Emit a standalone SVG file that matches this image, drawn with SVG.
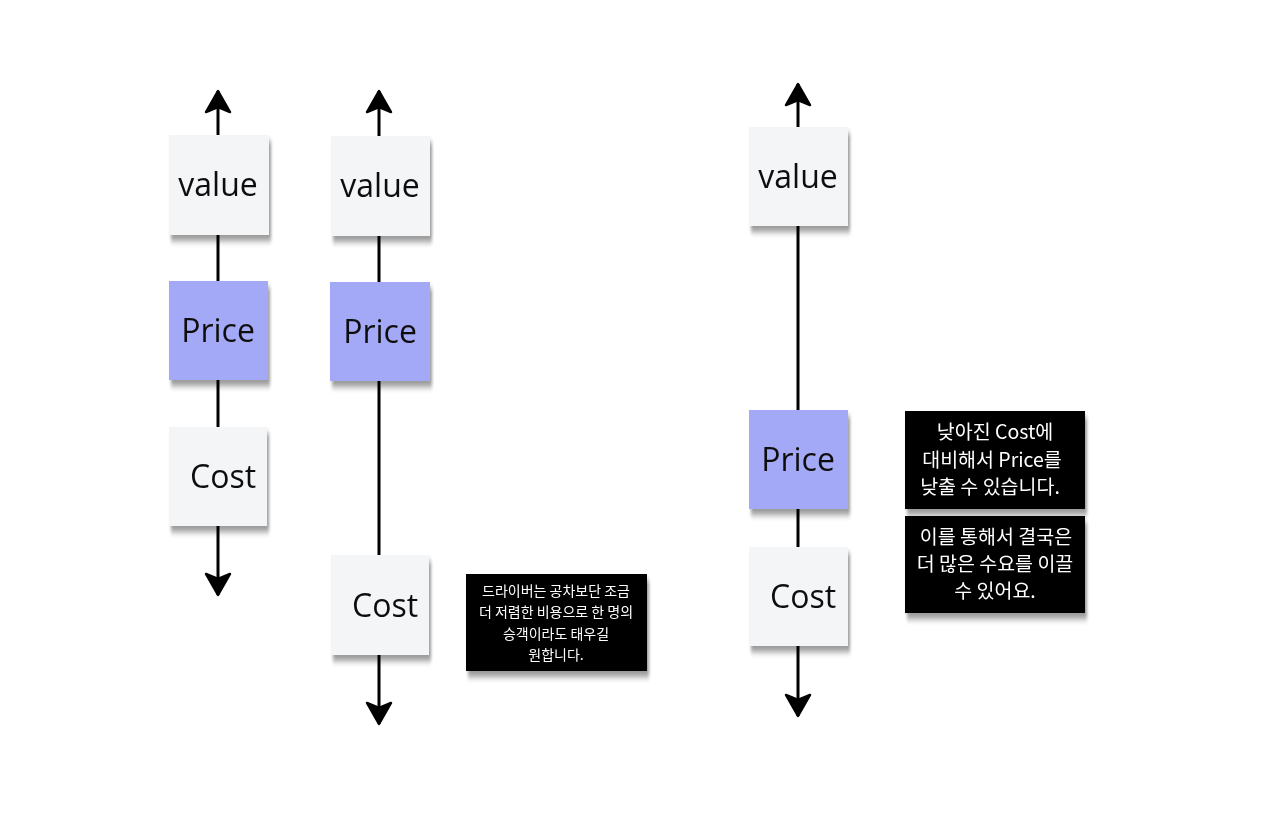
<svg xmlns="http://www.w3.org/2000/svg" width="1280" height="833" viewBox="0 0 1280 833">
<defs>
<style>
.ln{stroke:#000;stroke-width:3;fill:none}
.w{fill:#f4f5f7}
.p{fill:#a3a9f6}
.b{fill:#000}
.t{font-family:"Open Sans","Noto Sans",sans-serif;font-size:32px;fill:#111;text-anchor:middle}
.k{font-family:"Noto Sans CJK KR","Noto Sans",sans-serif;fill:#fff;text-anchor:middle}
.k1{font-size:14px}
.k2{font-size:19.5px}
</style>
<filter id="sh" x="-20%" y="-20%" width="140%" height="150%">
<feGaussianBlur in="SourceAlpha" stdDeviation="1.5 3"/>
<feOffset dx="2" dy="6" result="o"/>
<feComponentTransfer><feFuncA type="linear" slope="0.4"/></feComponentTransfer>
<feMerge><feMergeNode/><feMergeNode in="SourceGraphic"/></feMerge>
</filter>
<marker id="ah" viewBox="-3 -3 30 30" refX="21" refY="12" markerWidth="30" markerHeight="30" markerUnits="userSpaceOnUse" orient="auto">
<path d="M0,0 L21,12 L0,24 L5,12 Z" fill="#000" stroke="#000" stroke-width="2.5" stroke-linejoin="round"/>
</marker>
</defs>
<rect width="1280" height="833" fill="#fff"/>
<g id="connectors">
<line class="ln" x1="218" y1="340" x2="218" y2="91" marker-end="url(#ah)"/>
<line class="ln" x1="218" y1="340" x2="218" y2="595" marker-end="url(#ah)"/>
<line class="ln" x1="379" y1="400" x2="379" y2="91" marker-end="url(#ah)"/>
<line class="ln" x1="379" y1="400" x2="379" y2="724" marker-end="url(#ah)"/>
<line class="ln" x1="798" y1="400" x2="798" y2="84" marker-end="url(#ah)"/>
<line class="ln" x1="798" y1="400" x2="798" y2="716" marker-end="url(#ah)"/>
</g>
<g id="value1" filter="url(#sh)"><rect class="w" x="169" y="135" width="100" height="100"/><text class="t" x="218" y="196">value</text></g>
<g id="price1" filter="url(#sh)"><rect class="p" x="169" y="281" width="99" height="99"/><text class="t" x="218" y="342">Price</text></g>
<g id="cost1" filter="url(#sh)"><rect class="w" x="169" y="427" width="98" height="99"/><text class="t" x="223" y="488">Cost</text></g>
<g id="value2" filter="url(#sh)"><rect class="w" x="331" y="136" width="99" height="100"/><text class="t" x="380" y="197">value</text></g>
<g id="price2" filter="url(#sh)"><rect class="p" x="330" y="282" width="100" height="99"/><text class="t" x="380" y="343">Price</text></g>
<g id="cost2" filter="url(#sh)"><rect class="w" x="331" y="555" width="98" height="100"/><text class="t" x="385" y="617">Cost</text></g>
<g id="value3" filter="url(#sh)"><rect class="w" x="749" y="127" width="99" height="99"/><text class="t" x="798" y="188">value</text></g>
<g id="price3" filter="url(#sh)"><rect class="p" x="749" y="410" width="99" height="99"/><text class="t" x="798" y="471">Price</text></g>
<g id="cost3" filter="url(#sh)"><rect class="w" x="749" y="547" width="99" height="99"/><text class="t" x="803" y="608">Cost</text></g>
<g id="note1" filter="url(#sh)"><rect class="b" x="466" y="574" width="181" height="97"/>
<text class="k k1" x="556" y="596">드라이버는 공차보단 조금</text>
<text class="k k1" x="556" y="617">더 저렴한 비용으로 한 명의</text>
<text class="k k1" x="556" y="639">승객이라도 태우길</text>
<text class="k k1" x="556" y="660">원합니다.</text></g>
<g id="note2" filter="url(#sh)"><rect class="b" x="905" y="411" width="180" height="98"/>
<text class="k k2" x="995" y="439">낮아진 Cost에</text>
<text class="k k2" x="992" y="467">대비해서 Price를</text>
<text class="k k2" x="990" y="494">낮출 수 있습니다.</text></g>
<g id="note3" filter="url(#sh)"><rect class="b" x="905" y="516" width="180" height="97"/>
<text class="k k2" x="996" y="544">이를 통해서 결국은</text>
<text class="k k2" x="995" y="571">더 많은 수요를 이끌</text>
<text class="k k2" x="995" y="598">수 있어요.</text></g>
</svg>
